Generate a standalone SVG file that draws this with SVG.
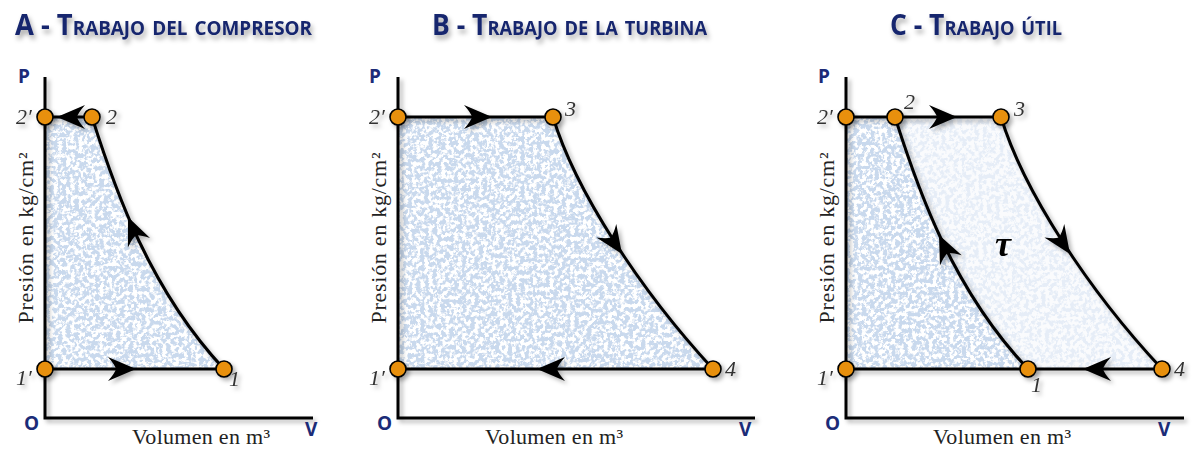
<svg xmlns="http://www.w3.org/2000/svg" width="1196" height="449" viewBox="0 0 1196 449">
<style>
.title{font-family:"Open Sans","Liberation Sans",sans-serif;font-weight:700;font-variant:small-caps;font-size:29px;fill:#17266e}
.axl{font-family:"Open Sans","Liberation Sans",sans-serif;font-weight:700;font-size:19px;fill:#1c2c78}
.lab{font-family:"Liberation Serif",serif;font-size:22px;fill:#222}
.pt{font-family:"Liberation Serif",serif;font-style:italic;font-size:22px;fill:#333}
.axis{stroke:#000;stroke-width:3;fill:none}
.ln{stroke:#000;stroke-width:3;fill:none}
.node{fill:#e8900c;stroke:#000;stroke-width:1.6}
.tau{font-family:"Liberation Serif",serif;font-style:italic;font-weight:700;font-size:36px;fill:#000}
</style>
<defs>
<filter id="texA" x="0" y="0" width="1" height="1" color-interpolation-filters="sRGB">
<feTurbulence type="fractalNoise" baseFrequency="0.24" numOctaves="3" seed="4" result="n"/>
<feColorMatrix in="n" type="matrix" values="0 0 0 0 0.79  0 0 0 0 0.85  0 0 0 0 0.93  7 0 0 0 -2.9" result="sp"/>
<feFlood flood-color="#ffffff" result="w"/>
<feComposite in="sp" in2="w" operator="over" result="m"/>
<feComposite in="m" in2="SourceAlpha" operator="in"/>
</filter>
<filter id="texL" x="0" y="0" width="1" height="1" color-interpolation-filters="sRGB">
<feTurbulence type="fractalNoise" baseFrequency="0.24" numOctaves="3" seed="9" result="n"/>
<feColorMatrix in="n" type="matrix" values="0 0 0 0 0.90  0 0 0 0 0.93  0 0 0 0 0.97  6 0 0 0 -2.6" result="sp"/>
<feFlood flood-color="#fafbfd" result="w"/>
<feComposite in="sp" in2="w" operator="over" result="m"/>
<feComposite in="m" in2="SourceAlpha" operator="in"/>
</filter>
<filter id="sh" x="-10%" y="-10%" width="130%" height="130%">
<feDropShadow dx="3" dy="3" stdDeviation="2" flood-color="#000" flood-opacity="0.3"/>
</filter>
<filter id="tsh" x="-5%" y="-20%" width="110%" height="160%">
<feDropShadow dx="2" dy="4" stdDeviation="2.5" flood-color="#000" flood-opacity="0.35"/>
</filter>
<path id="ah" d="M0,0 L-28,-12 Q-21,-4 -20,0 Q-21,4 -28,12 Z" fill="#000"/>
</defs>
<rect width="1196" height="449" fill="#fff"/>

<!-- titles -->
<g id="titles" filter="url(#tsh)">
<text class="title" x="15" y="35" textLength="297" lengthAdjust="spacingAndGlyphs">A - Trabajo del compresor</text>
<text class="title" x="432" y="35" textLength="275" lengthAdjust="spacingAndGlyphs">B - Trabajo de la turbina</text>
<text class="title" x="890" y="35" textLength="172" lengthAdjust="spacingAndGlyphs">C - Trabajo útil</text>
</g>

<!-- areas -->
<g id="areas">
<path d="M45,117 L92,117 C115,190 150,290 224,369 L45,369 Z" fill="#000" filter="url(#texA)"/>
<path d="M398,117 L553,117 C575,190 640,290 713,369 L398,369 Z" fill="#000" filter="url(#texA)"/>
<path d="M846,117 L895,117 C918,190 953,290 1028,369 L846,369 Z" fill="#000" filter="url(#texA)"/>
<path d="M895,117 L1001,117 C1023,190 1088,290 1162,369 L1028,369 C953,290 918,190 895,117 Z" fill="#000" filter="url(#texL)"/>
</g>

<!-- axes -->
<g id="axes" filter="url(#sh)">
<path class="axis" d="M45,77 L45,418 L313,418"/>
<path class="axis" d="M398,77 L398,418 L755,418"/>
<path class="axis" d="M846,77 L846,418 L1184,418"/>
</g>
<g id="axis-labels">
<text class="axl" x="18" y="83">P</text>
<text class="axl" x="24" y="430">O</text>
<text class="axl" x="305" y="436">V</text>
<text class="axl" x="369" y="83">P</text>
<text class="axl" x="377" y="430">O</text>
<text class="axl" x="739" y="436">V</text>
<text class="axl" x="818" y="83">P</text>
<text class="axl" x="825" y="430">O</text>
<text class="axl" x="1158" y="436">V</text>
<text class="lab" transform="translate(33,238) rotate(-90)" text-anchor="middle" textLength="171">Presión en kg/cm²</text>
<text class="lab" transform="translate(386,238) rotate(-90)" text-anchor="middle" textLength="171">Presión en kg/cm²</text>
<text class="lab" transform="translate(834,238) rotate(-90)" text-anchor="middle" textLength="171">Presión en kg/cm²</text>
<text class="lab" x="132" y="444" textLength="138">Volumen en m³</text>
<text class="lab" x="485" y="444" textLength="138">Volumen en m³</text>
<text class="lab" x="933" y="444" textLength="138">Volumen en m³</text>
</g>

<!-- connectors -->
<g id="connectors" filter="url(#sh)">
<path class="ln" d="M45,117 L92,117"/>
<path class="ln" d="M92,117 C115,190 150,290 224,369"/>
<path class="ln" d="M45,369 L224,369"/>
<use href="#ah" transform="translate(57,117) rotate(180)"/>
<use href="#ah" transform="translate(128,217) rotate(-113)"/>
<use href="#ah" transform="translate(136,369)"/>

<path class="ln" d="M398,117 L553,117"/>
<path class="ln" d="M553,117 C575,190 640,290 713,369"/>
<path class="ln" d="M398,369 L713,369"/>
<use href="#ah" transform="translate(492,117)"/>
<use href="#ah" transform="translate(622,254) rotate(56)"/>
<use href="#ah" transform="translate(537,369) rotate(180)"/>

<path class="ln" d="M846,117 L1001,117"/>
<path class="ln" d="M895,117 C918,190 953,290 1028,369"/>
<path class="ln" d="M1001,117 C1023,190 1088,290 1162,369"/>
<path class="ln" d="M846,369 L1162,369"/>
<use href="#ah" transform="translate(957,117)"/>
<use href="#ah" transform="translate(939,235) rotate(-115)"/>
<use href="#ah" transform="translate(1070,254) rotate(56)"/>
<use href="#ah" transform="translate(1083,369) rotate(180)"/>
</g>

<text class="tau" x="1003" y="256" text-anchor="middle">τ</text>

<!-- nodes -->
<g id="A-2p" filter="url(#sh)"><circle class="node" cx="45" cy="117" r="8"/><text class="pt" x="16" y="124">2′</text></g>
<g id="A-2" filter="url(#sh)"><circle class="node" cx="92" cy="117" r="8"/><text class="pt" x="106" y="124">2</text></g>
<g id="A-1p" filter="url(#sh)"><circle class="node" cx="45" cy="369" r="8"/><text class="pt" x="16" y="385">1′</text></g>
<g id="A-1" filter="url(#sh)"><circle class="node" cx="224" cy="369" r="8"/><text class="pt" x="229" y="386">1</text></g>

<g id="B-2p" filter="url(#sh)"><circle class="node" cx="398" cy="117" r="8"/><text class="pt" x="369" y="124">2′</text></g>
<g id="B-3" filter="url(#sh)"><circle class="node" cx="553" cy="117" r="8"/><text class="pt" x="565" y="116">3</text></g>
<g id="B-1p" filter="url(#sh)"><circle class="node" cx="398" cy="369" r="8"/><text class="pt" x="369" y="385">1′</text></g>
<g id="B-4" filter="url(#sh)"><circle class="node" cx="713" cy="369" r="8"/><text class="pt" x="725" y="376">4</text></g>

<g id="C-2p" filter="url(#sh)"><circle class="node" cx="846" cy="117" r="8"/><text class="pt" x="817" y="124">2′</text></g>
<g id="C-2" filter="url(#sh)"><circle class="node" cx="895" cy="117" r="8"/><text class="pt" x="904" y="109">2</text></g>
<g id="C-3" filter="url(#sh)"><circle class="node" cx="1001" cy="117" r="8"/><text class="pt" x="1014" y="116">3</text></g>
<g id="C-1p" filter="url(#sh)"><circle class="node" cx="846" cy="369" r="8"/><text class="pt" x="817" y="385">1′</text></g>
<g id="C-1" filter="url(#sh)"><circle class="node" cx="1028" cy="369" r="8"/><text class="pt" x="1031" y="392">1</text></g>
<g id="C-4" filter="url(#sh)"><circle class="node" cx="1162" cy="369" r="8"/><text class="pt" x="1174" y="376">4</text></g>
</svg>
